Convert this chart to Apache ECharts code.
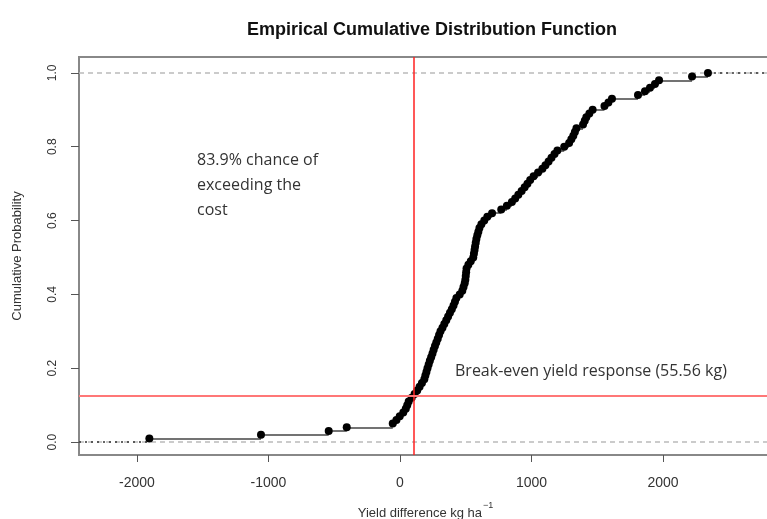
<!DOCTYPE html>
<html lang="en">
<head>
<meta charset="utf-8" />
<title>Empirical Cumulative Distribution Function</title>
<style>
  html, body { margin: 0; padding: 0; background: #fff; }
  #chart { width: 767px; height: 519px; }
</style>
</head>
<body>
<div id="chart"></div>
<script src="https://cdn.jsdelivr.net/npm/echarts@6/dist/echarts.min.js"></script>
<script>
// sorted yield differences (kg/ha)
const yieldDiff = [
  -1906, -1057, -542, -405, -55, -27, -2, 25, 44, 55,
  66, 89, 111, 131, 149, 167, 185, 193, 201, 209,
  218, 227, 237, 247, 256, 266, 276, 287, 297, 308,
  323, 337, 352, 366, 380, 394, 407, 418, 429, 454,
  474, 483, 492, 497, 500, 503, 506, 520, 538, 557,
  562, 567, 571, 576, 581, 588, 596, 604, 619, 641,
  664, 700, 770, 813, 851, 876, 900, 925, 948, 969,
  990, 1016, 1050, 1083, 1106, 1130, 1152, 1175, 1197, 1249,
  1286, 1303, 1318, 1330, 1342, 1392, 1405, 1417, 1440, 1465,
  1555, 1585, 1612, 1810, 1863, 1901, 1939, 1970, 2221, 2342
];
const xTicks = [-2000, -1000, 0, 1000, 2000];
const yTicks = [0, 0.2, 0.4, 0.6, 0.8, 1.0];
const breakEvenX = 101;
const breakEvenY = 0.125;

const xMin = -2441, xMax = 2829;
const yMin = -0.035, yMax = 1.043;

const n = yieldDiff.length;
const points = yieldDiff.map((x, i) => [x, (i + 1) / n]);
const steps = points.slice(0, -1).map((p, i) => ({ coords: [p, [yieldDiff[i + 1], p[1]]] }));
const tails = [
  { coords: [[xMin, 0], [yieldDiff[0], 0]] },
  { coords: [[yieldDiff[n - 1], 1], [xMax, 1]] }
];
const guides = [
  { coords: [[xMin, 0], [xMax, 0]] },
  { coords: [[xMin, 1], [xMax, 1]] }
];

const labelFont = 'Liberation Sans';
const lineSeries = (data, style, z) => ({
  type: 'lines', coordinateSystem: 'cartesian2d', silent: true, z: z,
  data: data, lineStyle: Object.assign({ opacity: 1 }, style)
});

const chart = echarts.init(document.getElementById('chart'));
chart.setOption({
  animation: false,
  title: {
    text: 'Empirical Cumulative Distribution Function',
    left: 427,
    top: 16,
    textAlign: 'center',
    textStyle: { fontFamily: labelFont, fontSize: 18, fontWeight: 'bold', color: '#111' }
  },
  grid: {
    left: 79, right: -5, top: 57, bottom: 64,
    outerBoundsMode: 'none', containLabel: false,
    show: true, borderColor: '#888', borderWidth: 2
  },
  xAxis: {
    type: 'value', min: xMin, max: xMax,
    splitLine: { show: false },
    axisLine: { show: false, onZero: false },
    axisTick: { show: true, length: 7, customValues: xTicks, lineStyle: { color: '#555' } },
    axisLabel: {
      customValues: xTicks, margin: 21, fontFamily: labelFont, fontSize: 14, color: '#333',
      formatter: v => String(v)
    },
    name: '{n|Yield difference kg ha}{s|−1}',
    nameLocation: 'middle',
    nameGap: 46,
    nameTextStyle: {
      rich: {
        n: { fontFamily: labelFont, fontSize: 13, color: '#333', verticalAlign: 'bottom' },
        s: { fontFamily: labelFont, fontSize: 9, color: '#333', verticalAlign: 'top', padding: [0, 0, 10, 1] }
      }
    }
  },
  yAxis: {
    type: 'value', min: yMin, max: yMax,
    splitLine: { show: false },
    axisLine: { show: false, onZero: false },
    axisTick: { show: true, length: 8, customValues: yTicks, lineStyle: { color: '#555' } },
    axisLabel: {
      customValues: yTicks, rotate: 90, margin: 20,
      fontFamily: labelFont, fontSize: 12, color: '#333',
      formatter: v => v.toFixed(1)
    },
    name: 'Cumulative Probability',
    nameLocation: 'middle',
    nameGap: 55,
    nameTextStyle: { fontFamily: labelFont, fontSize: 13, color: '#333' }
  },
  graphic: [
    {
      type: 'text', left: 197, top: 148,
      style: {
        text: '83.9% chance of\nexceeding the\ncost',
        font: '16px "Open Sans"', fill: '#333', lineHeight: 25
      }
    },
    {
      type: 'text', left: 455, top: 363,
      style: { text: 'Break-even yield response (55.56 kg)', font: '16px "Open Sans"', fill: '#333' }
    }
  ],
  series: [
    lineSeries(guides, { color: '#bbb', width: 1.5, type: [5, 4] }, 1),
    lineSeries(steps, { color: '#444', width: 1.5 }, 3),
    lineSeries(tails, { color: '#333', width: 1.5, type: [2, 4] }, 3),
    {
      type: 'scatter', data: points, symbolSize: 8, z: 4, silent: true,
      itemStyle: { color: '#000', opacity: 1 }
    },
    lineSeries([{ coords: [[breakEvenX, yMin], [breakEvenX, yMax]] }], { color: '#ff2020', width: 1.5 }, 5),
    lineSeries([{ coords: [[xMin, breakEvenY], [xMax, breakEvenY]] }], { color: '#f77', width: 2 }, 5)
  ]
});
</script>
</body>
</html>
